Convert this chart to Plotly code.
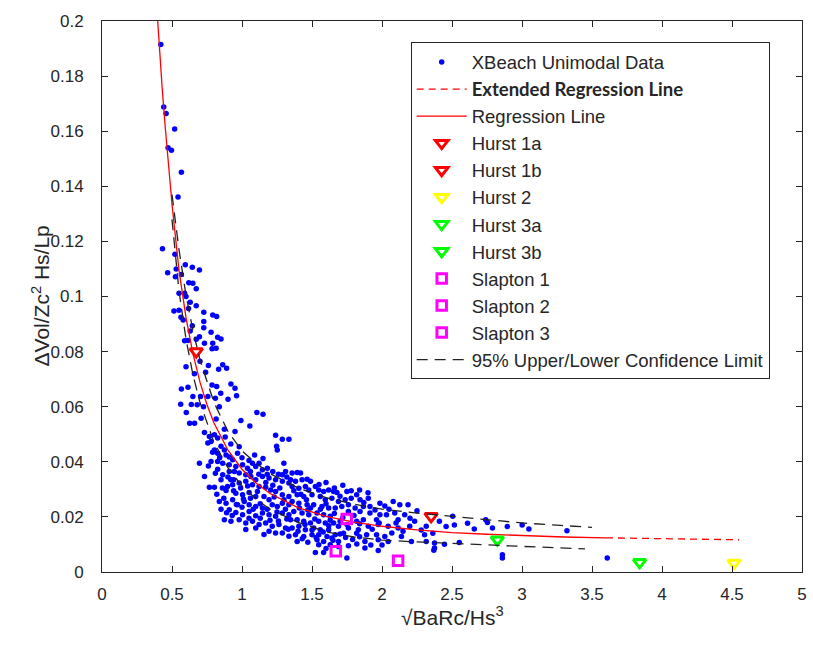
import plotly.graph_objects as go

# ---------------- data ----------------
xbeach_points = [
    (0.420, 0.1915), (0.441, 0.1688), (0.458, 0.1664), (0.519, 0.1608), (0.472, 0.1540),
    (0.496, 0.1531), (0.567, 0.1451), (0.543, 0.1361), (0.432, 0.1173), (0.521, 0.1153),
    (0.469, 0.1086), (0.524, 0.1072), (0.567, 0.1080), (0.595, 0.1115), (0.645, 0.1106),
    (0.696, 0.1096), (0.649, 0.1048), (0.673, 0.1028), (0.550, 0.1012), (0.590, 0.1012),
    (0.630, 0.0979), (0.514, 0.0947), (0.673, 0.0966), (0.564, 0.0925), (0.618, 0.0956),
    (0.727, 0.0943), (0.791, 0.0933), (0.819, 0.0927), (0.727, 0.0909), (0.645, 0.0894),
    (0.727, 0.0887), (0.779, 0.0870), (0.826, 0.0852), (0.850, 0.0846), (0.696, 0.0854),
    (0.673, 0.0845), (0.590, 0.0839), (0.614, 0.0840), (0.791, 0.0830), (0.732, 0.0830),
    (0.815, 0.0812), (0.786, 0.0810), (0.862, 0.0752), (0.890, 0.0740), (0.833, 0.0736),
    (0.786, 0.0679), (0.819, 0.0673), (0.921, 0.0682), (0.950, 0.0667), (0.961, 0.0640),
    (0.848, 0.0649), (0.567, 0.0664), (0.614, 0.0671), (0.649, 0.0637), (0.704, 0.0637),
    (0.756, 0.0637), (0.810, 0.0631), (0.900, 0.0627), (0.562, 0.0609), (0.638, 0.0608),
    (0.680, 0.0607), (0.725, 0.0600), (0.602, 0.0579), (0.708, 0.0558), (0.815, 0.0555),
    (0.626, 0.0540), (0.661, 0.0540), (0.992, 0.0550), (1.056, 0.0530), (1.106, 0.0579),
    (1.150, 0.0573), (0.838, 0.0600),
    (0.740, 0.0725), (0.700, 0.0765), (0.760, 0.0750), (0.660, 0.0720), (0.600, 0.0745),
    (0.630, 0.0875), (0.580, 0.0915), (0.600, 0.1000), (0.550, 0.0950), (0.530, 0.1100),
    (0.620, 0.1050),
    (0.874, 0.0518), (0.732, 0.0506), (1.240, 0.0496), (1.288, 0.0482), (1.335, 0.0482),
    (1.247, 0.0456), (1.252, 0.0443), (0.767, 0.0492), (0.803, 0.0498), (0.826, 0.0486),
    (0.779, 0.0474), (0.756, 0.0468), (0.850, 0.0456), (0.874, 0.0443), (0.803, 0.0443),
    (0.826, 0.0431), (0.886, 0.0425), (0.909, 0.0417), (0.933, 0.0407), (0.968, 0.0431),
    (0.696, 0.0395), (0.779, 0.0401), (0.826, 0.0401), (0.862, 0.0395), (0.909, 0.0389),
    (0.956, 0.0383), (1.004, 0.0389), (1.039, 0.0377), (1.075, 0.0395), (1.098, 0.0383),
    (1.122, 0.0395), (1.146, 0.0371), (1.181, 0.0377), (1.299, 0.0395), (1.311, 0.0365),
    (1.288, 0.0353), (0.732, 0.0347), (0.826, 0.0373), (0.862, 0.0353), (0.909, 0.0365),
    (0.945, 0.0365), (0.980, 0.0359), (1.027, 0.0353), (1.063, 0.0347), (1.098, 0.0335),
    (1.146, 0.0347), (1.193, 0.0341), (1.240, 0.0335), (1.288, 0.0329), (1.335, 0.0323),
    (0.767, 0.0308), (0.803, 0.0308), (0.897, 0.0310), (0.933, 0.0317), (0.980, 0.0323),
    (1.027, 0.0329), (1.075, 0.0317), (1.122, 0.0310), (1.169, 0.0308), (1.205, 0.0298),
    (1.240, 0.0292), (1.288, 0.0280), (1.335, 0.0274), (0.886, 0.0296), (0.956, 0.0286),
    (1.004, 0.0280), (1.051, 0.0289), (1.098, 0.0274), (1.157, 0.0274), (1.193, 0.0262),
    (0.838, 0.0256), (0.886, 0.0250), (0.933, 0.0262), (0.968, 0.0244), (1.016, 0.0256),
    (1.051, 0.0244), (1.098, 0.0238), (1.146, 0.0232), (1.216, 0.0244), (1.252, 0.0238),
    (1.288, 0.0250), (1.335, 0.0244), (0.850, 0.0228), (0.909, 0.0226), (0.956, 0.0216),
    (1.004, 0.0208), (1.051, 0.0220), (1.098, 0.0204), (1.146, 0.0214), (1.193, 0.0208),
    (1.240, 0.0202), (1.288, 0.0214), (1.335, 0.0208), (0.874, 0.0190), (0.921, 0.0184),
    (0.980, 0.0190), (1.027, 0.0178), (1.075, 0.0184), (1.122, 0.0172), (1.169, 0.0178),
    (1.216, 0.0166), (1.264, 0.0172), (1.311, 0.0160), (1.027, 0.0154), (1.098, 0.0160),
    (1.157, 0.0136), (1.193, 0.0148), (1.288, 0.0142), (1.335, 0.0130), (1.240, 0.0142),
    (0.920, 0.0335), (0.940, 0.0295), (0.990, 0.0305), (1.010, 0.0265), (1.040, 0.0312),
    (1.060, 0.0268), (1.080, 0.0228), (1.110, 0.0292), (1.130, 0.0248), (1.130, 0.0195),
    (1.170, 0.0325), (1.180, 0.0228), (1.200, 0.0188), (1.220, 0.0315), (1.230, 0.0272),
    (1.250, 0.0218), (1.260, 0.0185), (1.270, 0.0305), (1.300, 0.0262), (1.310, 0.0228),
    (1.320, 0.0192), (1.330, 0.0155), (1.050, 0.0195), (1.000, 0.0235), (0.960, 0.0245),
    (0.930, 0.0205), (0.890, 0.0215), (0.870, 0.0268), (0.900, 0.0345), (0.940, 0.0335),
    (1.060, 0.0365), (1.120, 0.0355), (1.180, 0.0355), (1.220, 0.0365), (1.260, 0.0355),
    (1.320, 0.0345), (1.000, 0.0415), (1.050, 0.0405), (0.980, 0.0455), (0.920, 0.0465),
    (0.880, 0.0490), (0.950, 0.0510), (1.090, 0.0425), (1.150, 0.0412),
    (0.790, 0.0435), (0.840, 0.0415), (0.760, 0.0385), (0.810, 0.0358), (0.850, 0.0335),
    (0.820, 0.0282), (0.860, 0.0305),
    (1.358, 0.0359), (1.394, 0.0361), (1.418, 0.0359), (1.347, 0.0335), (1.382, 0.0329),
    (1.429, 0.0335), (1.465, 0.0337), (1.489, 0.0329), (1.358, 0.0310), (1.406, 0.0304),
    (1.453, 0.0310), (1.477, 0.0298), (1.524, 0.0310), (1.548, 0.0298), (1.583, 0.0292),
    (1.619, 0.0298), (1.654, 0.0292), (1.678, 0.0289), (1.749, 0.0292), (1.394, 0.0280),
    (1.441, 0.0274), (1.500, 0.0280), (1.559, 0.0274), (1.595, 0.0262), (1.642, 0.0268),
    (1.689, 0.0256), (1.737, 0.0262), (1.819, 0.0280), (1.843, 0.0262), (1.902, 0.0268),
    (1.358, 0.0256), (1.406, 0.0250), (1.465, 0.0244), (1.512, 0.0244), (1.571, 0.0238),
    (1.619, 0.0232), (1.666, 0.0232), (1.713, 0.0238), (1.760, 0.0244), (1.808, 0.0232),
    (1.867, 0.0238), (1.914, 0.0238), (1.985, 0.0250), (2.020, 0.0240), (2.080, 0.0256),
    (2.127, 0.0244), (2.186, 0.0244), (1.370, 0.0220), (1.429, 0.0214), (1.477, 0.0208),
    (1.536, 0.0214), (1.583, 0.0208), (1.630, 0.0202), (1.760, 0.0220), (1.843, 0.0220),
    (1.914, 0.0214), (1.985, 0.0208), (2.032, 0.0208), (2.091, 0.0214), (2.162, 0.0208),
    (2.233, 0.0184), (1.347, 0.0190), (1.394, 0.0190), (1.441, 0.0184), (1.489, 0.0178),
    (1.548, 0.0184), (1.595, 0.0178), (1.654, 0.0178), (1.701, 0.0184), (1.819, 0.0184),
    (1.867, 0.0190), (1.961, 0.0190), (2.115, 0.0190), (1.358, 0.0160), (1.406, 0.0166),
    (1.453, 0.0153), (1.512, 0.0160), (1.559, 0.0153), (1.619, 0.0153), (1.689, 0.0166),
    (1.760, 0.0160), (1.831, 0.0153), (1.902, 0.0166), (1.973, 0.0172), (2.044, 0.0166),
    (2.115, 0.0160), (2.198, 0.0166), (2.316, 0.0166), (1.382, 0.0135), (1.441, 0.0129),
    (1.500, 0.0135), (1.548, 0.0135), (1.607, 0.0129), (1.666, 0.0135), (1.725, 0.0141),
    (1.819, 0.0141), (1.890, 0.0135), (1.961, 0.0135), (2.020, 0.0129), (2.139, 0.0129),
    (2.304, 0.0135), (2.363, 0.0141), (1.394, 0.0111), (1.536, 0.0117), (1.583, 0.0111),
    (1.642, 0.0123), (1.689, 0.0111), (1.878, 0.0111), (1.973, 0.0117), (2.044, 0.0111),
    (2.210, 0.0111), (2.375, 0.0105), (1.548, 0.0099), (1.630, 0.0099), (1.689, 0.0093),
    (1.878, 0.0087), (1.973, 0.0078), (2.316, 0.0111), (2.375, 0.0087), (1.524, 0.0071),
    (1.583, 0.0071), (1.749, 0.0051), (2.370, 0.0079),
    (1.370, 0.0295), (1.420, 0.0282), (1.460, 0.0262), (1.490, 0.0232), (1.520, 0.0192),
    (1.560, 0.0228), (1.600, 0.0248), (1.630, 0.0188), (1.660, 0.0212), (1.700, 0.0275),
    (1.720, 0.0198), (1.750, 0.0172), (1.780, 0.0268), (1.800, 0.0205), (1.840, 0.0175),
    (1.870, 0.0252), (1.400, 0.0148), (1.450, 0.0172), (1.500, 0.0152), (1.530, 0.0125),
    (1.580, 0.0145), (1.620, 0.0168), (1.650, 0.0115), (1.700, 0.0138), (1.740, 0.0125),
    (1.790, 0.0118), (1.840, 0.0128), (1.410, 0.0232), (1.470, 0.0225), (1.550, 0.0318),
    (1.600, 0.0325), (1.660, 0.0305), (1.720, 0.0315), (1.780, 0.0295), (1.840, 0.0298),
    (1.900, 0.0288), (1.950, 0.0225), (1.980, 0.0178), (2.050, 0.0228), (2.100, 0.0178),
    (2.150, 0.0148), (2.200, 0.0195), (2.250, 0.0222), (2.280, 0.0152), (1.930, 0.0155),
    (2.070, 0.0142), (2.000, 0.0098), (1.920, 0.0098), (1.820, 0.0102), (1.760, 0.0095),
    (1.600, 0.0085), (1.470, 0.0108), (1.430, 0.0121),
    (2.410, 0.0184), (2.458, 0.0165), (2.505, 0.0202), (2.517, 0.0171), (2.611, 0.0177),
    (2.659, 0.0156), (2.741, 0.0190), (2.753, 0.0180), (2.789, 0.0160), (2.895, 0.0165),
    (3.001, 0.0171), (3.049, 0.0156), (3.321, 0.0150), (2.446, 0.0101), (2.552, 0.0107),
    (2.860, 0.0063), (2.860, 0.0051), (3.609, 0.0051),
]
xbeach_x = [p[0] for p in xbeach_points]
xbeach_y = [p[1] for p in xbeach_points]

regression_x = [0.39, 0.41, 0.43, 0.45, 0.475, 0.5, 0.55, 0.6, 0.65, 0.7, 0.75, 0.8, 0.9,
                1.0, 1.1, 1.2, 1.4, 1.6, 1.8, 2.0, 2.25, 2.5, 2.75, 3.0, 3.3, 3.6]
regression_y = [0.206, 0.190, 0.1755, 0.1625, 0.1475, 0.1335, 0.1095, 0.0923, 0.0792, 0.0689,
                0.0607, 0.0541, 0.0442, 0.0373, 0.0323, 0.0285, 0.0234, 0.0202, 0.0181, 0.0166,
                0.0153, 0.0143, 0.0137, 0.0132, 0.0127, 0.0124]

extended_x = [3.6, 4.0, 4.55]
extended_y = [0.0124, 0.0121, 0.0117]

conf_upper_x = [0.5, 0.55, 0.6, 0.65, 0.7, 0.8, 0.9, 1.0, 1.1, 1.2, 1.4, 1.6, 1.8, 2.0,
                2.25, 2.5, 2.75, 3.0, 3.25, 3.5]
conf_upper_y = [0.137, 0.117, 0.1005, 0.0875, 0.0770, 0.0615, 0.0510, 0.0440, 0.0395, 0.0357,
                0.0305, 0.0270, 0.0246, 0.0228, 0.0214, 0.0202, 0.0190, 0.0178, 0.0170, 0.0162]
conf_lower_x = [0.5, 0.55, 0.6, 0.65, 0.7, 0.8, 0.9, 1.0, 1.1, 1.2, 1.4, 1.6, 1.8, 2.0,
                2.25, 2.5, 2.75, 3.0, 3.25, 3.45]
conf_lower_y = [0.128, 0.102, 0.0845, 0.0715, 0.0615, 0.0470, 0.0378, 0.0312, 0.0265, 0.0228,
                0.0180, 0.0146, 0.0127, 0.0116, 0.0109, 0.0103, 0.0098, 0.0093, 0.0088, 0.0084]

site_names = ["Hurst 1a", "Hurst 1b", "Hurst 2", "Hurst 3a", "Hurst 3b",
              "Slapton 1", "Slapton 2", "Slapton 3"]
site_x = [0.673, 2.351, 4.514, 2.824, 3.840, 1.748, 1.670, 2.115]
site_y = [0.0800, 0.0202, 0.0033, 0.0117, 0.0035, 0.0192, 0.0075, 0.0041]
site_colors = ["#ff0000", "#ff0000", "#ffff00", "#00ff00", "#00ff00",
               "#ff00ff", "#ff00ff", "#ff00ff"]
site_symbols = ["triangle-down-open"] * 5 + ["square-open"] * 3

x_ticks = [0, 0.5, 1, 1.5, 2, 2.5, 3, 3.5, 4, 4.5, 5]
x_tick_labels = ["0", "0.5", "1", "1.5", "2", "2.5", "3", "3.5", "4", "4.5", "5"]
y_ticks = [0, 0.02, 0.04, 0.06, 0.08, 0.1, 0.12, 0.14, 0.16, 0.18, 0.2]
y_tick_labels = ["0", "0.02", "0.04", "0.06", "0.08", "0.1", "0.12", "0.14", "0.16", "0.18", "0.2"]

x_title = "√BaRc/Hs<sup>3</sup>"
y_title = "ΔVol/Zc<sup>2</sup> Hs/Lp"

# ---------------- figure ----------------
FONT = "Liberation Sans, Arial, sans-serif"
AX = "#262626"
fig = go.Figure()

fig.add_trace(go.Scatter(x=xbeach_x, y=xbeach_y, mode="markers", name="XBeach Unimodal Data",
                         legendgroup="g0",
                         marker=dict(color="#0000ff", size=5.5, line=dict(width=0))))
fig.add_trace(go.Scatter(x=extended_x, y=extended_y, mode="lines",
                         name='<span style="font-family:Lato"><b>Extended Regression Line</b></span>',
                         legendgroup="g1",
                         line=dict(color="#ff0000", width=1.3, dash="7px,5px")))
fig.add_trace(go.Scatter(x=regression_x, y=regression_y, mode="lines", name="Regression Line",
                         legendgroup="g2",
                         line=dict(color="#ff0000", width=1.3)))
for i, nm in enumerate(site_names):
    is_tri = site_symbols[i].startswith("triangle")
    fig.add_trace(go.Scatter(x=[site_x[i]], y=[site_y[i]], mode="markers", name=nm,
                             legendgroup="s%d" % i,
                             marker=dict(symbol=site_symbols[i], size=11 if is_tri else 9.5,
                                         color=site_colors[i],
                                         line=dict(color=site_colors[i], width=3))))
fig.add_trace(go.Scatter(x=conf_upper_x, y=conf_upper_y, mode="lines",
                         name="95% Upper/Lower Confidence Limit", legendgroup="gc",
                         line=dict(color="#222222", width=1.3, dash="11px,7px")))
fig.add_trace(go.Scatter(x=conf_lower_x, y=conf_lower_y, mode="lines",
                         name="95% Upper/Lower Confidence Limit", legendgroup="gc",
                         showlegend=False,
                         line=dict(color="#222222", width=1.3, dash="11px,7px")))

axis_common = dict(showline=True, linecolor=AX, linewidth=1, mirror="ticks",
                   ticks="inside", ticklen=6, tickcolor=AX, showgrid=False, zeroline=False,
                   tickfont=dict(family=FONT, size=17, color=AX))

fig.update_layout(
    width=813, height=647,
    margin=dict(l=102, r=6, t=21, b=75),
    paper_bgcolor="white", plot_bgcolor="white",
    showlegend=True,
    xaxis=dict(range=[0, 5], tickvals=x_ticks, ticktext=x_tick_labels,
               ticklabelstandoff=7, **axis_common),
    yaxis=dict(range=[0, 0.2], tickvals=y_ticks, ticktext=y_tick_labels,
               ticklabelstandoff=14, **axis_common),
    legend=dict(x=0.441, y=0.961, xanchor="left", yanchor="top",
                bgcolor="white", bordercolor=AX, borderwidth=1,
                font=dict(family=FONT, size=18.5, color=AX),
                traceorder="grouped", tracegroupgap=0, itemwidth=50),
    annotations=[
        dict(text=x_title, xref="paper", yref="paper", x=0.5, y=0, xanchor="center",
             yanchor="middle", yshift=-44, showarrow=False,
             font=dict(family=FONT, size=21, color=AX)),
        dict(text=y_title, xref="paper", yref="paper", x=0, y=0.5, xanchor="center",
             yanchor="middle", xshift=-62, textangle=-90, showarrow=False,
             font=dict(family=FONT, size=21, color=AX)),
    ],
)

fig.write_html("out.html")
